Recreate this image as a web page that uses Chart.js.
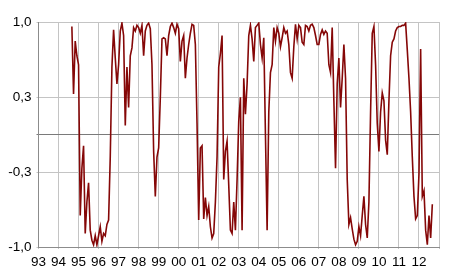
<!DOCTYPE html>
<html>
<head>
<meta charset="utf-8">
<script src="https://cdn.jsdelivr.net/npm/chart.js@4"></script>
<style>
  html, body { margin: 0; padding: 0; background: #fff; }
  #graph { display: block; }
</style>
</head>
<body>
<canvas id="graph" width="450" height="279"></canvas>
<script>
// serie mensuelle, premier point = septembre 1994
const debutAnnee = 1994;
const debutMois = 9;
const valeurs = [
  0.96, 0.36, 0.83, 0.70,
  0.62, -0.72, -0.30, -0.10, -0.88, -0.60, -0.43, -0.85, -0.94, -0.98, -0.90, -0.98,
  -0.90, -0.82, -0.95, -0.88, -0.90, -0.80, -0.76, -0.20, 0.60, 0.93, 0.68, 0.45,
  0.62, 0.92, 0.99, 0.88, 0.08, 0.60, 0.24, 0.70, 0.77, 0.95, 0.92, 0.97,
  0.95, 0.90, 0.97, 0.70, 0.92, 0.97, 0.99, 0.94, 0.62, -0.15, -0.55, -0.20,
  -0.12, 0.33, 0.85, 0.86, 0.85, 0.70, 0.88, 0.96, 0.99, 0.95, 0.90, 0.98,
  0.94, 0.65, 0.83, 0.88, 0.50, 0.68, 0.80, 0.90, 0.98, 0.97, 0.80, 0.10,
  -0.76, -0.12, -0.10, -0.75, -0.56, -0.72, -0.64, -0.82, -0.92, -0.88, -0.60, -0.20,
  0.60, 0.72, 0.88, -0.40, -0.15, -0.06, -0.45, -0.85, -0.88, -0.60, -0.85, -0.40,
  0.12, 0.33, -0.85, 0.50, 0.18, 0.45, 0.88, 0.97, 0.85, 0.65, 0.95, 0.97,
  0.99, 0.80, 0.68, 0.86, 0.00, -0.85, 0.20, 0.55, 0.62, 0.95, 0.83, 0.95,
  0.90, 0.78, 0.86, 0.95, 0.90, 0.92, 0.80, 0.55, 0.50, 0.78, 0.98, 0.85,
  0.97, 0.95, 0.82, 0.80, 0.97, 0.96, 0.92, 0.97, 0.98, 0.95, 0.88, 0.80,
  0.80, 0.89, 0.93, 0.89, 0.92, 0.90, 0.62, 0.55, 0.95, 0.30, -0.30, 0.45,
  0.68, 0.24, 0.50, 0.80, 0.50, -0.40, -0.80, -0.74, -0.84, -0.93, -0.98, -0.95,
  -0.82, -0.90, -0.72, -0.55, -0.80, -0.92, -0.60, 0.20, 0.90, 0.96, 0.62, 0.10,
  -0.15, 0.20, 0.37, 0.30, -0.05, -0.18, 0.30, 0.70, 0.82, 0.85, 0.92, 0.95,
  0.96, 0.96, 0.97, 0.97, 0.99, 0.75, 0.50, 0.20, -0.20, -0.55, -0.75, -0.72,
  -0.35, 0.76, -0.55, -0.50, -0.85, -0.98, -0.72, -0.92, -0.62
];
const etiquettesAnnees = ['93', '94', '95', '96', '97', '98', '99', '00', '01', '02',
  '03', '04', '05', '06', '07', '08', '09', '10', '11', '12'];
const ticksY = [-1, -1 / 3, 0, 1 / 3, 1];

const points = valeurs.map((v, i) => ({
  x: debutAnnee + (debutMois - 1 + i) / 12,
  y: v
}));

const ctx = document.getElementById('graph').getContext('2d');
const police = { family: 'Liberation Sans, Arial', size: 13.5 };

new Chart(ctx, {
  type: 'line',
  data: {
    datasets: [{
      data: points,
      borderColor: '#850707',
      borderWidth: 1.6,
      pointRadius: 0,
      tension: 0,
      fill: false
    }]
  },
  options: {
    responsive: false,
    animation: false,
    layout: { padding: { left: 0, top: 22, right: 11, bottom: 0 } },
    plugins: { legend: { display: false }, tooltip: { enabled: false } },
    scales: {
      x: {
        type: 'linear',
        min: 1993,
        max: 2013,
        afterFit: s => { s.height = 32; },
        ticks: {
          stepSize: 1,
          autoSkip: false,
          maxRotation: 0,
          padding: 5,
          color: '#000',
          font: police,
          callback: v => etiquettesAnnees[v - 1993] || ''
        },
        grid: { color: '#c4c4c4', lineWidth: 1, tickLength: 2 },
        border: { color: '#8c8c8c' }
      },
      y: {
        min: -1,
        max: 1,
        afterFit: s => { s.width = 38.5; },
        afterBuildTicks: s => { s.ticks = ticksY.map(v => ({ value: v })); },
        ticks: {
          padding: 5,
          color: '#000',
          font: police,
          callback: v => Math.abs(v) < 1e-9 ? '' : v.toFixed(1).replace('.', ',')
        },
        grid: {
          color: c => Math.abs(c.tick.value) < 1e-9 ? '#7a7a7a' : '#c4c4c4',
          lineWidth: 1,
          tickLength: 2
        },
        border: { color: '#8c8c8c' }
      }
    }
  }
});
</script>
</body>
</html>
